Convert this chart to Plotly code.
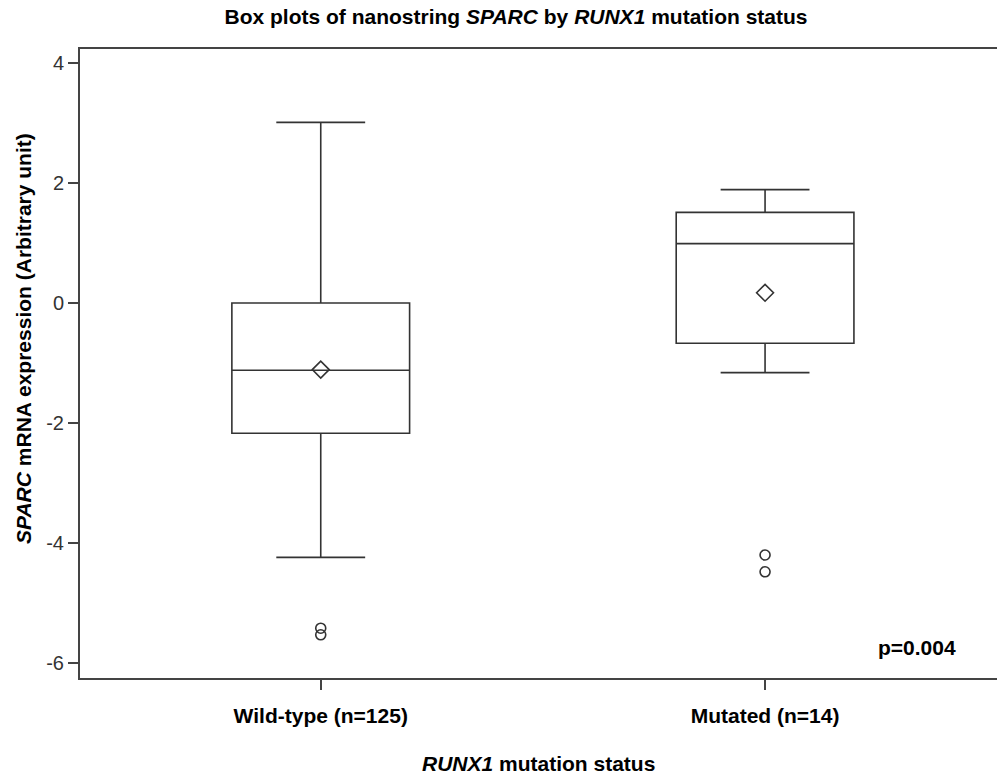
import plotly.graph_objects as go

# ---- data ----
categories = ["Wild-type (n=125)", "Mutated (n=14)"]
q1_vals = [-2.17, -0.67]
median_vals = [-1.12, 0.99]
q3_vals = [0.00, 1.51]
lower_whisker = [-4.24, -1.16]
upper_whisker = [3.01, 1.89]
mean_vals = [-1.11, 0.17]
outliers_wild = [-5.42, -5.53]
outliers_mut = [-4.20, -4.48]
y_ticks = [-6, -4, -2, 0, 2, 4]
y_tick_labels = ["-6", "-4", "-2", "0", "2", "4"]
p_text = "p=0.004"

FONT = "Liberation Sans, Arial, sans-serif"
LINE = "#333333"
AXIS = "#444444"

fig = go.Figure()

fig.add_trace(go.Box(
    x=categories,
    q1=q1_vals,
    median=median_vals,
    q3=q3_vals,
    lowerfence=lower_whisker,
    upperfence=upper_whisker,
    boxpoints=False,
    width=0.4,
    whiskerwidth=0.5,
    fillcolor="rgba(255,255,255,0)",
    line=dict(color=LINE, width=1.6),
    showlegend=False,
    hoverinfo="skip",
))

fig.add_trace(go.Scatter(
    x=categories,
    y=mean_vals,
    mode="markers",
    marker=dict(symbol="diamond-open", size=13, color=LINE, line=dict(width=1.6, color=LINE)),
    showlegend=False,
    hoverinfo="skip",
))

out_x = [categories[0]] * len(outliers_wild) + [categories[1]] * len(outliers_mut)
out_y = outliers_wild + outliers_mut
fig.add_trace(go.Scatter(
    x=out_x,
    y=out_y,
    mode="markers",
    marker=dict(symbol="circle-open", size=10, color=LINE, line=dict(width=1.6, color=LINE)),
    showlegend=False,
    hoverinfo="skip",
))

fig.update_layout(
    width=997,
    height=780,
    margin=dict(l=80, r=0, t=49, b=102),
    paper_bgcolor="white",
    plot_bgcolor="white",
    font=dict(family=FONT, color="black"),
    title=dict(
        text="<b>Box plots of nanostring <i>SPARC</i> by <i>RUNX1</i> mutation status</b>",
        font=dict(size=21, family=FONT, color="black"),
        x=516 / 997, xref="container", xanchor="center",
        y=1 - 17 / 780, yref="container", yanchor="middle",
    ),
    xaxis=dict(
        type="category",
        categoryorder="array",
        categoryarray=categories,
        range=[-0.5418, 1.522],
        showline=True, linecolor=AXIS, linewidth=2,
        mirror=True,
        ticks="outside", ticklen=10, tickwidth=1.5, tickcolor=AXIS,
        tickfont=dict(size=21, family=FONT, color="black", weight="bold"),
        ticklabelstandoff=8,
        showgrid=False, zeroline=False,
    ),
    yaxis=dict(
        range=[-6.25, 4.233],
        tickvals=y_ticks,
        ticktext=y_tick_labels,
        showline=True, linecolor=AXIS, linewidth=2,
        ticks="outside", ticklen=10, tickwidth=1.5, tickcolor=AXIS,
        tickfont=dict(size=20, family=FONT, color="#333333"),
        showgrid=False, zeroline=False,
    ),
    annotations=[
        dict(
            text="<b><i>SPARC</i> mRNA expression (Arbitrary unit)</b>",
            xref="paper", yref="paper",
            x=(23 - 80) / 917, y=(678 - 339) / 629,
            xanchor="center", yanchor="middle",
            textangle=-90, showarrow=False,
            font=dict(size=21, family=FONT, color="black"),
        ),
        dict(
            text="<b><i>RUNX1</i> mutation status</b>",
            xref="paper", yref="paper",
            x=0.5, y=(678 - 763) / 629,
            xanchor="center", yanchor="middle",
            showarrow=False,
            font=dict(size=21, family=FONT, color="black"),
        ),
        dict(
            text="<b>" + p_text + "</b>",
            xref="paper", yref="paper",
            x=(916.5 - 80) / 917, y=(678 - 647) / 629,
            xanchor="center", yanchor="middle",
            showarrow=False,
            font=dict(size=21, family=FONT, color="black"),
        ),
    ],
)

fig.write_html(
    "out.html",
    config={"displayModeBar": False},
    post_script="document.body.style.margin='0';",
)
